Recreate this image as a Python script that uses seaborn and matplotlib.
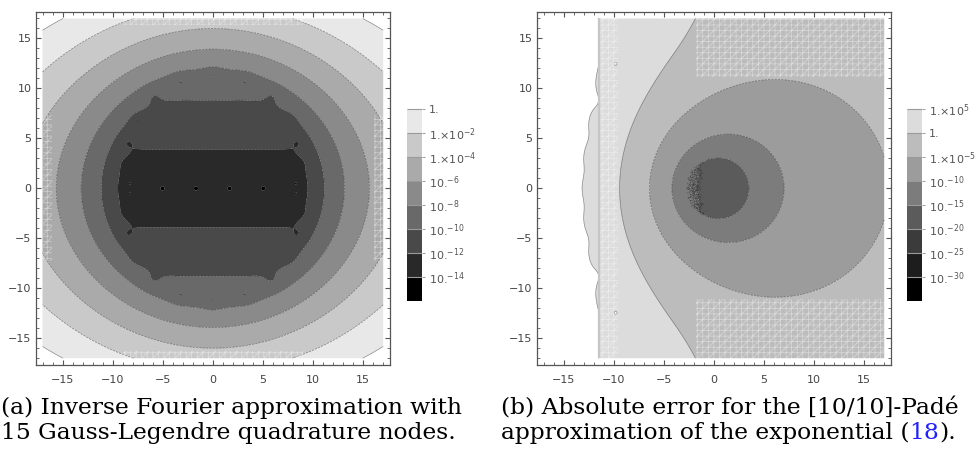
import numpy as np
import pandas as pd
import matplotlib
matplotlib.use("Agg")
import matplotlib.pyplot as plt
from matplotlib.colors import ListedColormap
from matplotlib.ticker import MultipleLocator
from matplotlib.patches import Rectangle
import seaborn as sns
from math import factorial

sns.set_theme(style="ticks")
plt.rcParams["font.family"] = ["DejaVu Sans"]
plt.rcParams["hatch.linewidth"] = 0.5
plt.rcParams["axes.unicode_minus"] = True

# ------------------------------------------------------------------ data
gl_order = 15            # Gauss-Legendre quadrature nodes, panel (a)
gl_weight_error = [0.0, 2.6e-14, 0.0, 0.0, 0.0, 0.0, 0.0, 0.0,
                   0.0, 0.0, 0.0, 0.0, 0.0, 2.6e-14, 0.0]
pade_m = 10              # [10/10] Pade approximant, panel (b)
pade_n = 10
domain = [-17.0, 17.0]
grid_points = 700

levels_a = [-14, -12, -10, -8, -6, -4, -2, 0]
labels_a = ["1.", "1.×10$^{-2}$", "1.×10$^{-4}$", "10.$^{-6}$", "10.$^{-8}$",
            "10.$^{-10}$", "10.$^{-12}$", "10.$^{-14}$"]
grays_a = ["#000000", "#292929", "#494949", "#696969", "#8a8a8a",
           "#aaaaaa", "#c9c9c9", "#e8e8e8", "#ffffff"]

levels_b = [-30, -25, -20, -15, -10, -5, 0, 5]
labels_b = ["1.×10$^{5}$", "1.", "1.×10$^{-5}$", "10.$^{-10}$", "10.$^{-15}$",
            "10.$^{-20}$", "10.$^{-25}$", "10.$^{-30}$"]
grays_b = ["#000000", "#1d1d1d", "#3b3b3b", "#5b5b5b", "#7c7c7c",
           "#9c9c9c", "#bcbcbc", "#dcdcdc", "#ffffff"]

caption_a = ["(a) Inverse Fourier approximation with",
             "15 Gauss-Legendre quadrature nodes."]
caption_b = ["(b) Absolute error for the [10/10]-Padé",
             "approximation of the exponential ("]
eq_ref = "18"

# rendering seams of the original (hatched areas), in data units
seams_a = [(-17, -7.3, 0.9, 14.6), (16.1, -7.3, 0.9, 14.6),
           (-9.0, 16.3, 18.0, 0.7), (-9.0, -17, 18.0, 0.7)]
seams_b = [(-11.4, -17, 1.8, 34), (-1.8, 11.1, 18.8, 5.9),
           (-1.8, -17, 18.8, 5.9)]
seam_line_b = -11.5

# ------------------------------------------------------------------ fields
xs = np.linspace(domain[0], domain[1], grid_points)
X, Y = np.meshgrid(xs, xs)
Z = X + 1j * Y

t_nodes, w_nodes = np.polynomial.legendre.leggauss(gl_order)
w_nodes = w_nodes + np.array(gl_weight_error)
quad = np.zeros_like(Z)
for tk, wk in zip(t_nodes, w_nodes):
    quad += wk * np.exp(1j * Z * tk)
err_a = np.abs(2.0 * np.sin(Z) / Z - quad)

coef = [factorial(pade_m + pade_n - k) * factorial(pade_m)
        / (factorial(pade_m + pade_n) * factorial(k) * factorial(pade_m - k))
        for k in range(pade_m + 1)]
P = lambda z: np.polyval(coef[::-1], z)
err_b = np.abs(np.exp(-Z) - P(-Z) / P(Z))
err_b = np.maximum(err_b, 1e-17)   # machine-precision floor


def logfield(e):
    return np.clip(np.log10(np.maximum(e, 1e-300)), -50, 50)


# ------------------------------------------------------------------ figure
W, H = 976, 455
fig = plt.figure(figsize=(W / 100, H / 100), dpi=100)
fig.patch.set_facecolor("white")


def px(x0, y0, x1, y1):
    return [x0 / W, 1 - y1 / H, (x1 - x0) / W, (y1 - y0) / H]


def panel(rect, field, levels, grays, seams):
    ax = fig.add_axes(rect)
    bounds = [-60] + levels + [60]
    ax.contourf(X, Y, field, levels=bounds, colors=grays, antialiased=True)
    ax.contour(X, Y, field, levels=levels, colors=[(0.1, 0.1, 0.1, 0.55)],
               linewidths=0.45)
    for (x0, y0, w, h) in seams:
        ax.add_patch(Rectangle((x0, y0), w, h, facecolor="none",
                               edgecolor=(1, 1, 1, 0.45), hatch="+++///",
                               lw=0, zorder=3))
    lim = 17.68
    ax.set_xlim(-lim, lim)
    ax.set_ylim(-lim, lim)
    ax.set_facecolor("white")
    for a in (ax.xaxis, ax.yaxis):
        a.set_major_locator(MultipleLocator(5))
        a.set_minor_locator(MultipleLocator(1))
    ax.tick_params(which="both", direction="in", top=True, right=True,
                   color="#555555", labelsize=8, labelcolor="#444444")
    ax.tick_params(which="major", length=3.8, width=0.8)
    ax.tick_params(which="minor", length=2.0, width=0.6)
    ax.tick_params(axis="x", pad=7.5)
    ax.tick_params(axis="y", pad=3)
    for s in ax.spines.values():
        s.set_color("#555555")
        s.set_linewidth(0.9)
    return ax


def legend_bar(rect, grays, labels):
    cax = fig.add_axes(rect)
    bands = pd.DataFrame({"band": np.arange(len(grays))[::-1]})
    sns.heatmap(bands, ax=cax, cmap=ListedColormap(grays), cbar=False,
                vmin=-0.5, vmax=len(grays) - 0.5,
                xticklabels=False, yticklabels=False)
    cax.hlines(np.arange(1, len(grays)), 0, 1, colors="#9a9a9a", lw=0.8)
    cax.yaxis.tick_right()
    cax.set_yticks(np.arange(1, len(grays)))
    cax.set_yticklabels(labels)
    cax.tick_params(axis="y", right=True, left=False, length=2.5, width=0.7,
                    color="#999999", labelsize=8, labelcolor="#555555", pad=2)
    cax.tick_params(axis="x", bottom=False)
    for s in cax.spines.values():
        s.set_visible(False)
    return cax


ax_a = panel(px(35.7, 11.7, 390.0, 365.0), logfield(err_a), levels_a,
             grays_a, seams_a)
ax_b = panel(px(536.7, 11.7, 891.0, 365.0), logfield(err_b), levels_b,
             grays_b, seams_b)
ax_b.plot([seam_line_b, seam_line_b], domain, color="#c6c6c6", lw=1.6,
          zorder=3, solid_capstyle="butt")

legend_bar(px(406.7, 85.0, 422.3, 300.5), grays_a, labels_a)
legend_bar(px(906.7, 85.0, 922.3, 300.5), grays_b, labels_b)

# ---- captions: size chosen so that the last line of (b) spans 501..959 px
cap_family = ["DejaVu Serif"]
renderer = fig.canvas.get_renderer()
probe = fig.text(0, 0, caption_b[1] + eq_ref + ").", fontsize=15,
                 family=cap_family)
probe_w = probe.get_window_extent(renderer).width
probe.remove()
cap_size = 15 * (959 - 501) / probe_w

cap = dict(fontsize=cap_size, family=cap_family, color="black",
           va="baseline", ha="left")
fig.text(1 / W, 1 - 414 / H, caption_a[0], **cap)
fig.text(1 / W, 1 - 439 / H, caption_a[1], **cap)
fig.text(501 / W, 1 - 414 / H, caption_b[0], **cap)
t1 = fig.text(501 / W, 1 - 439 / H, caption_b[1], **cap)
cap2 = dict(fontsize=cap_size, family=cap_family, va="bottom", ha="left")
t2 = ax_b.annotate(eq_ref, xy=(1, 0), xycoords=t1, color="#1f1fff",
                   annotation_clip=False, **cap2)
ax_b.annotate(").", xy=(1, 0), xycoords=t2, color="black",
              annotation_clip=False, **cap2)

fig.savefig("out.png", dpi=100, facecolor="white")
